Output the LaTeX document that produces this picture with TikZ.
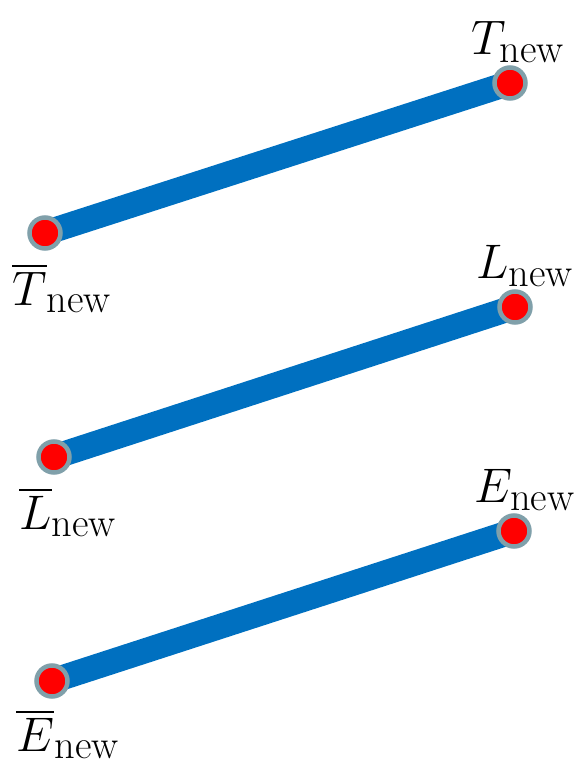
\documentclass[tikz,border=0pt]{standalone}
\usepackage{amsmath}
\usepackage{graphicx}
\definecolor{segblue}{RGB}{0,112,192}
\definecolor{dotring}{RGB}{128,160,170}
\newcommand{\biglab}[1]{\scalebox{1.95}{\Huge$#1$}}
\tikzset{
  seg/.style={segblue, line width=25pt},
  dot/.style={circle, fill=red, draw=dotring, line width=4.5pt, minimum size=31pt, inner sep=0pt},
  lab/.style={inner sep=0pt}
}
\begin{document}
\begin{tikzpicture}[x=1pt,y=-1pt]
\useasboundingbox (0,0) rectangle (579,766);
\coordinate (tb) at (45,233); \coordinate (t) at (510,83);
\coordinate (lb) at (54,457); \coordinate (l) at (515,307);
\coordinate (eb) at (52,681); \coordinate (e) at (514,531);
\draw[seg] (tb) -- (t);
\draw[seg] (lb) -- (l);
\draw[seg] (eb) -- (e);
\node[dot] (Tb) at (tb) {};
\node[dot] (T) at (t) {};
\node[dot] (Lb) at (lb) {};
\node[dot] (L) at (l) {};
\node[dot] (Eb) at (eb) {};
\node[dot] (E) at (e) {};
\node[lab] (Tl) at (518,42) {\biglab{T_{\text{new}}}};
\node[lab] (Tbl) at (62,288) {\biglab{\overline{T}_{\text{new}}}};
\node[lab] (Ll) at (525,266) {\biglab{L_{\text{new}}}};
\node[lab] (Lbl) at (68,512) {\biglab{\overline{L}_{\text{new}}}};
\node[lab] (El) at (525,490) {\biglab{E_{\text{new}}}};
\node[lab] (Ebl) at (68,734) {\biglab{\overline{E}_{\text{new}}}};
\end{tikzpicture}
\end{document}
